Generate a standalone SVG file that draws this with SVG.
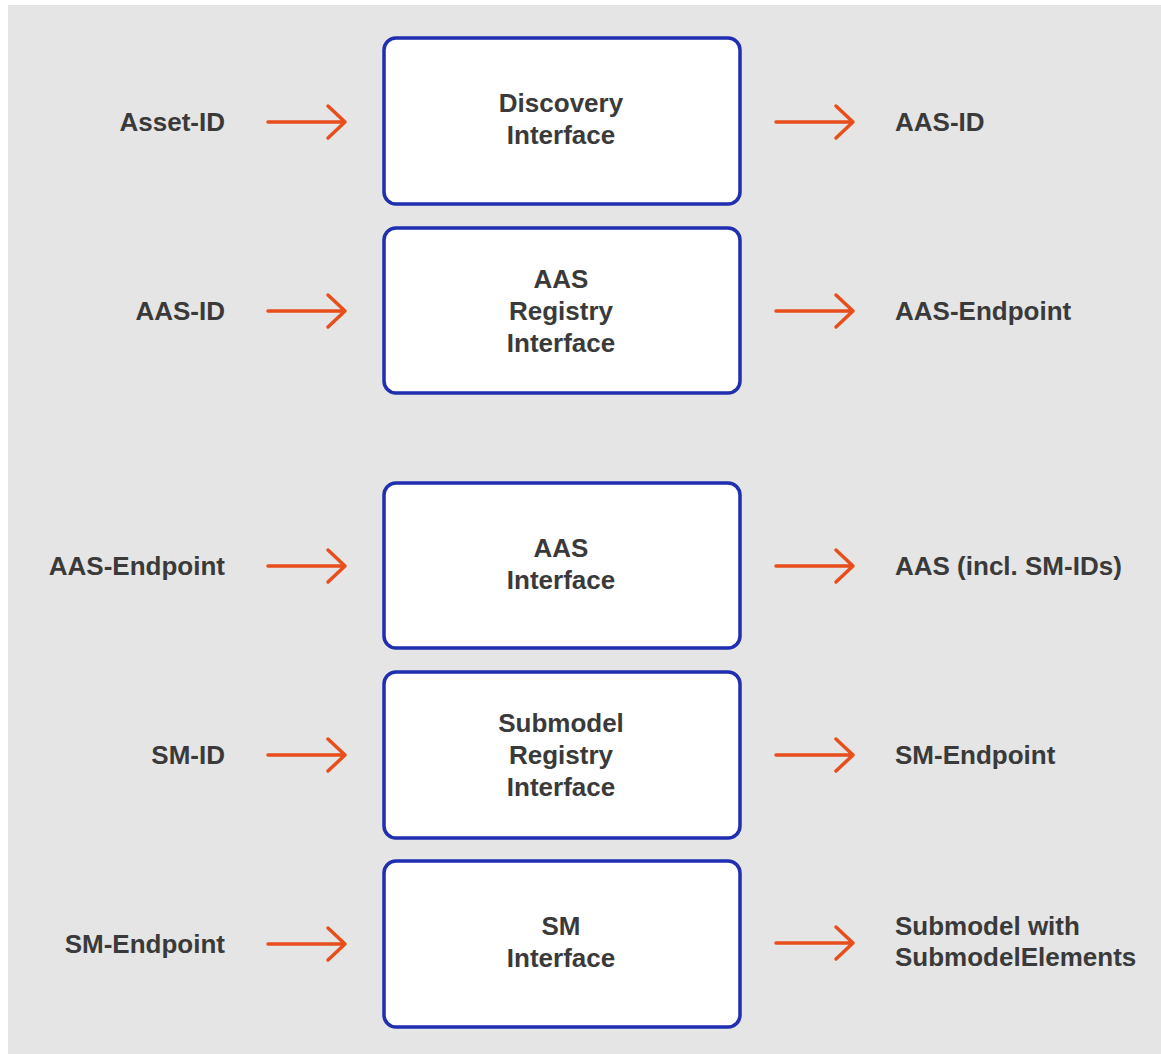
<svg xmlns="http://www.w3.org/2000/svg" width="1161" height="1054" viewBox="0 0 1161 1054">
<style>
.box{fill:#ffffff;stroke:#1f2fb0;stroke-width:3.5}
.t{font-family:"Liberation Sans",Arial,sans-serif;font-weight:bold;font-size:26px;fill:#3a3a3a}
.c{text-anchor:middle}
.l{text-anchor:end}
.r{text-anchor:start}
.arr{fill:none;stroke:#e84e1c;stroke-width:3.5;stroke-linecap:round;stroke-linejoin:round}
</style>
<defs>
<path id="a" d="M0 0H77M60 -16L77 0L60 16"/>
</defs>
<rect x="0" y="0" width="1161" height="1054" fill="#ffffff"/>
<rect x="8" y="5" width="1153" height="1049" fill="#e5e5e5"/>

<g id="n1">
<rect class="box" x="384" y="38" width="356" height="166" rx="12"/>
<text class="t c" x="561" y="112">Discovery</text>
<text class="t c" x="561" y="144">Interface</text>
</g>
<g id="n2">
<rect class="box" x="384" y="228" width="356" height="165" rx="12"/>
<text class="t c" x="561" y="288">AAS</text>
<text class="t c" x="561" y="320">Registry</text>
<text class="t c" x="561" y="352">Interface</text>
</g>
<g id="n3">
<rect class="box" x="384" y="483" width="356" height="165" rx="12"/>
<text class="t c" x="561" y="557">AAS</text>
<text class="t c" x="561" y="589">Interface</text>
</g>
<g id="n4">
<rect class="box" x="384" y="672" width="356" height="166" rx="12"/>
<text class="t c" x="561" y="732">Submodel</text>
<text class="t c" x="561" y="764">Registry</text>
<text class="t c" x="561" y="796">Interface</text>
</g>
<g id="n5">
<rect class="box" x="384" y="861" width="356" height="166" rx="12"/>
<text class="t c" x="561" y="935">SM</text>
<text class="t c" x="561" y="967">Interface</text>
</g>

<g id="labels">
<text class="t l" x="225" y="131">Asset-ID</text>
<text class="t r" x="895" y="131">AAS-ID</text>
<text class="t l" x="225" y="320">AAS-ID</text>
<text class="t r" x="895" y="320">AAS-Endpoint</text>
<text class="t l" x="225" y="575">AAS-Endpoint</text>
<text class="t r" x="895" y="575">AAS (incl. SM-IDs)</text>
<text class="t l" x="225" y="764">SM-ID</text>
<text class="t r" x="895" y="764">SM-Endpoint</text>
<text class="t l" x="225" y="953">SM-Endpoint</text>
<text class="t r" x="895" y="935">Submodel with</text>
<text class="t r" x="895" y="966">SubmodelElements</text>
</g>

<g id="connectors" class="arr">
<use href="#a" x="268" y="122"/>
<use href="#a" x="776" y="122"/>
<use href="#a" x="268" y="311"/>
<use href="#a" x="776" y="311"/>
<use href="#a" x="268" y="566"/>
<use href="#a" x="776" y="566"/>
<use href="#a" x="268" y="755"/>
<use href="#a" x="776" y="755"/>
<use href="#a" x="268" y="944"/>
<use href="#a" x="776" y="943"/>
</g>
</svg>
